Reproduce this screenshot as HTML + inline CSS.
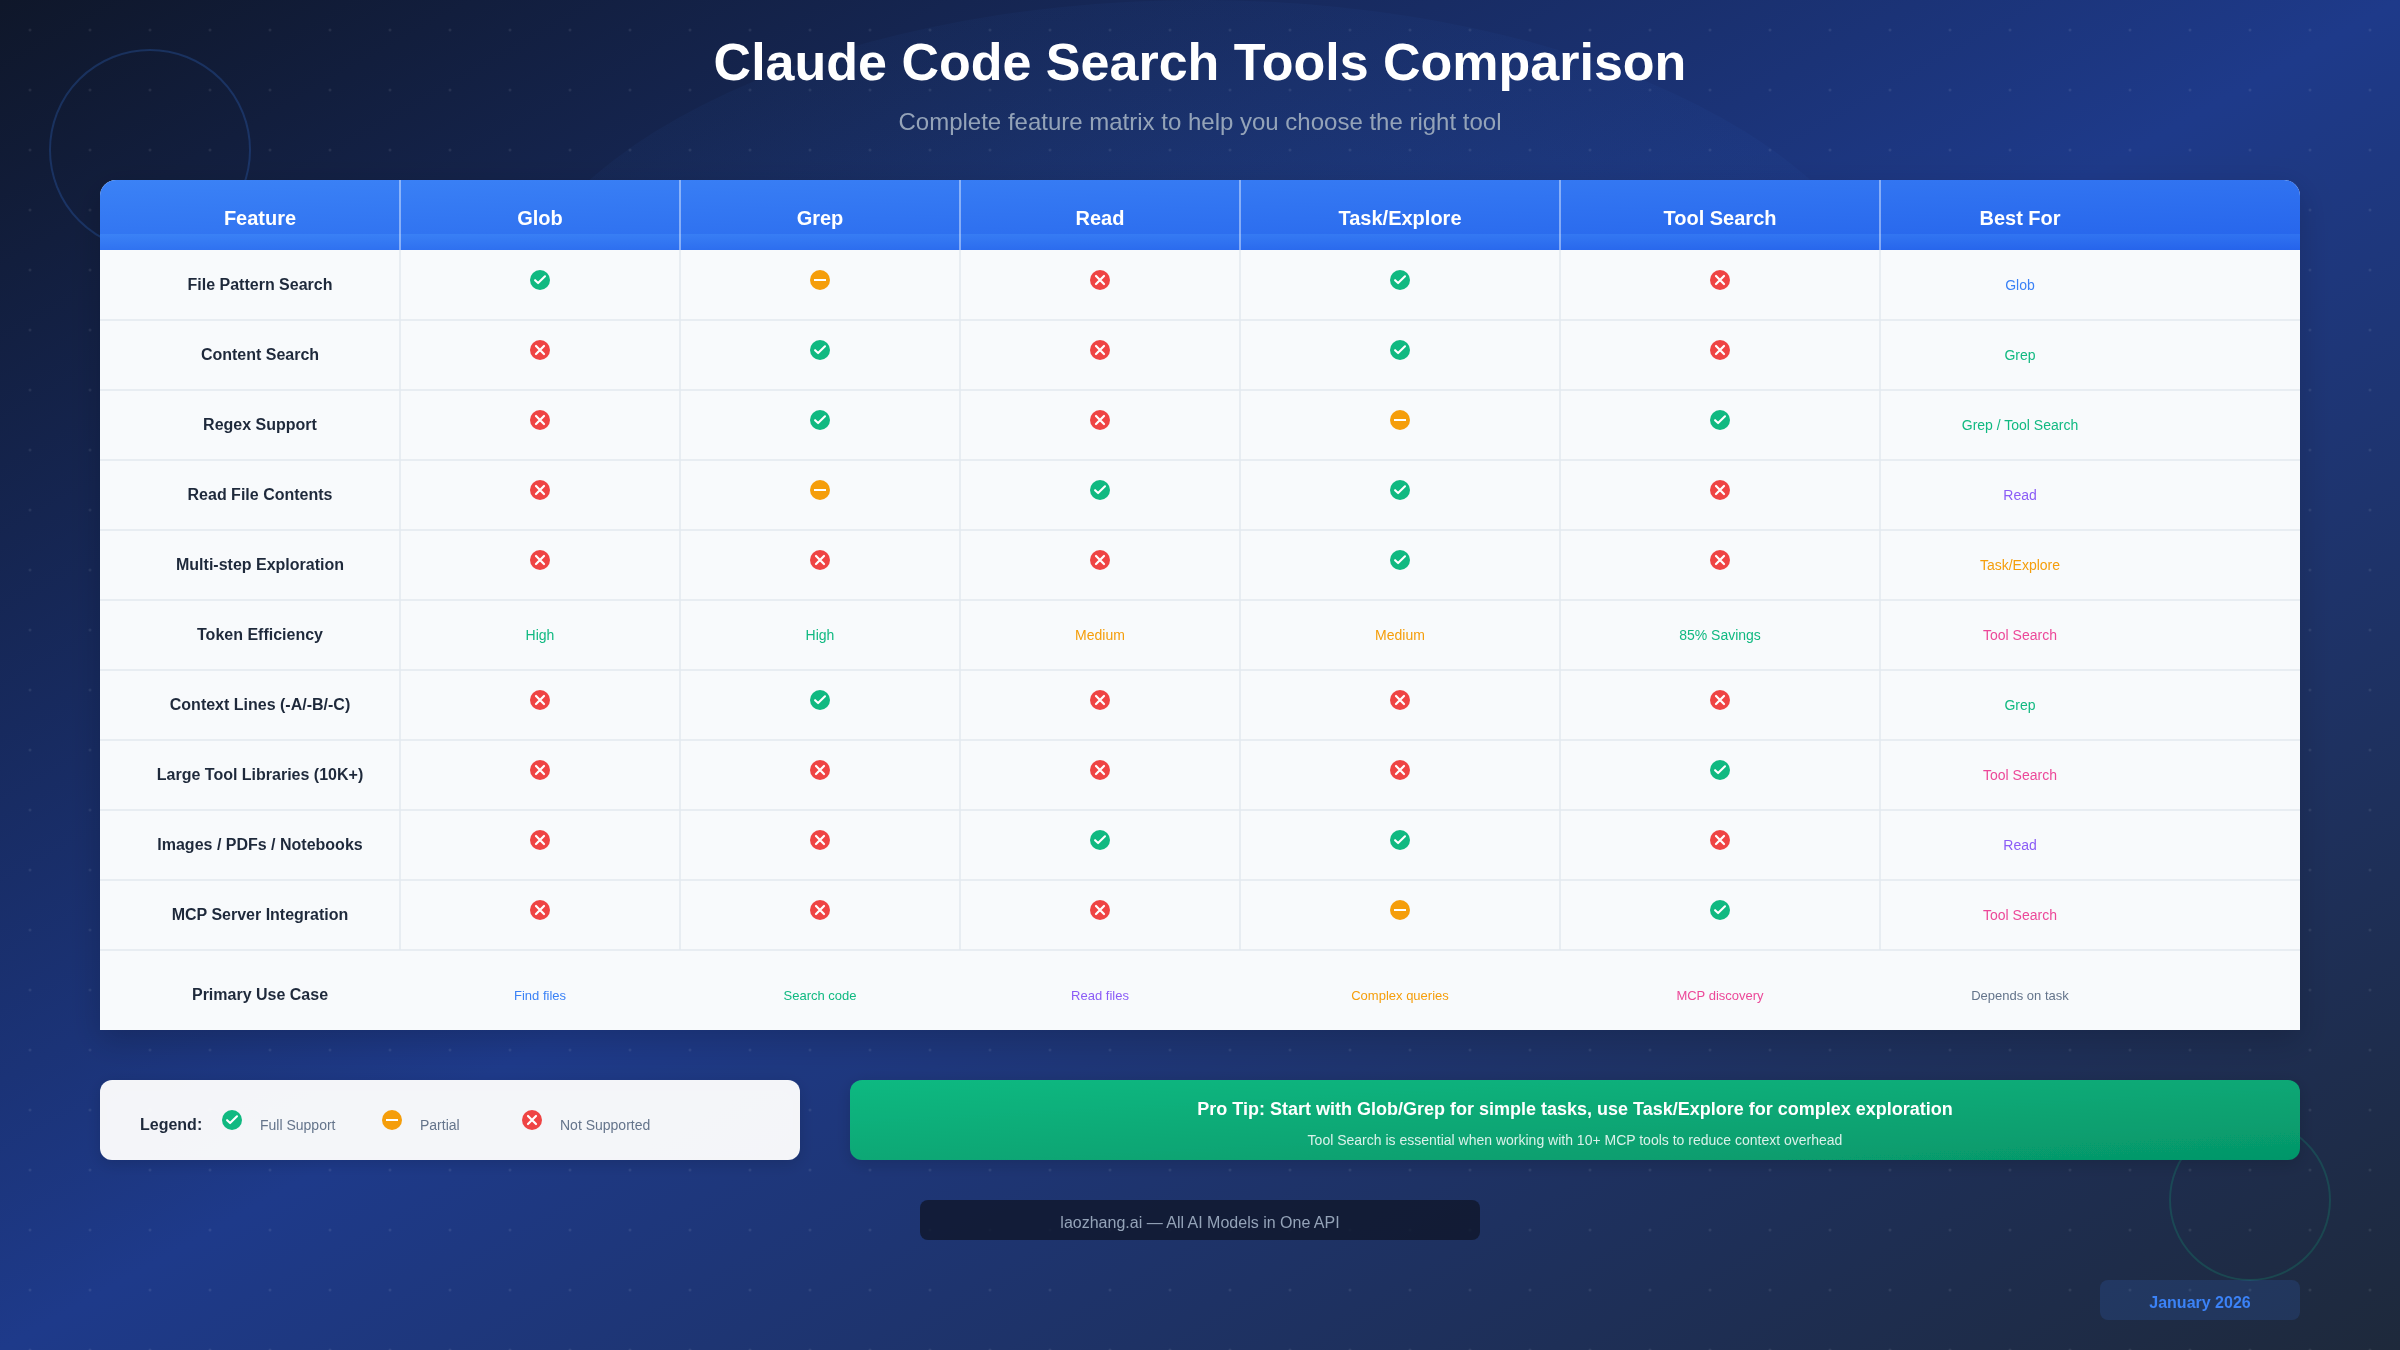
<!DOCTYPE html>
<html><head><meta charset="utf-8"><title>Claude Code Search Tools Comparison</title>
<style>
html,body{margin:0;padding:0;width:2400px;height:1350px;overflow:hidden;background:#0f172a;}
svg{display:block;will-change:transform;}
text{font-family:"Liberation Sans",sans-serif;}
.b{font-weight:bold;}
</style></head><body>
<svg width="2400" height="1350" viewBox="0 0 2400 1350">
<defs>
<linearGradient id="bg" x1="0" y1="0" x2="1" y2="1">
<stop offset="0" stop-color="#0f172a"/>
<stop offset="0.5" stop-color="#1e3a8a"/>
<stop offset="1" stop-color="#1e293b"/>
</linearGradient>
<radialGradient id="glow" cx="0.5" cy="0.5" r="0.5">
<stop offset="0" stop-color="#3b82f6" stop-opacity="0.12"/>
<stop offset="1" stop-color="#3b82f6" stop-opacity="0.04"/>
</radialGradient>
<linearGradient id="hdr" x1="0" y1="0" x2="1" y2="1">
<stop offset="0" stop-color="#3b82f6"/>
<stop offset="1" stop-color="#2563eb"/>
</linearGradient>
<linearGradient id="tip" x1="0" y1="0" x2="1" y2="1">
<stop offset="0" stop-color="#10b981"/>
<stop offset="1" stop-color="#059669"/>
</linearGradient>
<filter id="sh" x="-5%" y="-10%" width="110%" height="130%">
<feDropShadow dx="0" dy="10" stdDeviation="16" flood-color="#000000" flood-opacity="0.18"/>
</filter>
<filter id="sh2" x="-10%" y="-50%" width="120%" height="200%">
<feDropShadow dx="0" dy="4" stdDeviation="8" flood-color="#000000" flood-opacity="0.15"/>
</filter>
<pattern id="dots" x="0" y="0" width="60" height="60" patternUnits="userSpaceOnUse">
<circle cx="30" cy="30" r="1.5" fill="#ffffff" fill-opacity="0.08"/>
</pattern>
<g id="iy"><circle cx="0" cy="0" r="10" fill="#10b981"/><path d="M-4.9,0.2 L-1.9,3.1 L5,-3.7" fill="none" stroke="#fff" stroke-width="2.1" stroke-linecap="round" stroke-linejoin="round"/></g>
<g id="ip"><circle cx="0" cy="0" r="10" fill="#f59e0b"/><rect x="-6" y="-1" width="12" height="2" fill="#fff"/></g>
<g id="in"><circle cx="0" cy="0" r="10" fill="#ef4444"/><path d="M-4,-4 L4,4 M4,-4 L-4,4" fill="none" stroke="#fff" stroke-width="2.2" stroke-linecap="round"/></g>
</defs>
<rect x="0" y="0" width="2400" height="1350" fill="url(#bg)"/>
<ellipse cx="1200" cy="360" rx="705" ry="360" fill="url(#glow)"/>
<rect x="0" y="0" width="2400" height="1350" fill="url(#dots)"/>
<circle cx="150" cy="150" r="100" fill="none" stroke="#3b82f6" stroke-opacity="0.22" stroke-width="2"/>
<circle cx="2250" cy="1200" r="80" fill="none" stroke="#10b981" stroke-opacity="0.2" stroke-width="2"/>
<text x="1200" y="80" text-anchor="middle" class="b" font-size="52" fill="#ffffff">Claude Code Search Tools Comparison</text>
<text x="1200" y="130" text-anchor="middle" font-size="24" fill="#94a3b8">Complete feature matrix to help you choose the right tool</text>

<path d="M116,180 H2284 A16,16 0 0 1 2300,196 V1030 H100 V196 A16,16 0 0 1 116,180 Z" fill="#f8fafc" filter="url(#sh)"/>
<rect x="100" y="250" width="2200" height="780" fill="#f8fafc"/>
<rect x="100" y="180" width="2200" height="70" rx="16" ry="16" fill="url(#hdr)"/>
<rect x="100" y="234" width="2200" height="16" fill="url(#hdr)"/>
<line x1="400" y1="180" x2="400" y2="250" stroke="#ffffff" stroke-opacity="0.42" stroke-width="2"/>
<line x1="680" y1="180" x2="680" y2="250" stroke="#ffffff" stroke-opacity="0.42" stroke-width="2"/>
<line x1="960" y1="180" x2="960" y2="250" stroke="#ffffff" stroke-opacity="0.42" stroke-width="2"/>
<line x1="1240" y1="180" x2="1240" y2="250" stroke="#ffffff" stroke-opacity="0.42" stroke-width="2"/>
<line x1="1560" y1="180" x2="1560" y2="250" stroke="#ffffff" stroke-opacity="0.42" stroke-width="2"/>
<line x1="1880" y1="180" x2="1880" y2="250" stroke="#ffffff" stroke-opacity="0.42" stroke-width="2"/>
<text x="260" y="225" text-anchor="middle" class="b" font-size="20" fill="#ffffff">Feature</text>
<text x="540" y="225" text-anchor="middle" class="b" font-size="20" fill="#ffffff">Glob</text>
<text x="820" y="225" text-anchor="middle" class="b" font-size="20" fill="#ffffff">Grep</text>
<text x="1100" y="225" text-anchor="middle" class="b" font-size="20" fill="#ffffff">Read</text>
<text x="1400" y="225" text-anchor="middle" class="b" font-size="20" fill="#ffffff">Task/Explore</text>
<text x="1720" y="225" text-anchor="middle" class="b" font-size="20" fill="#ffffff">Tool Search</text>
<text x="2020" y="225" text-anchor="middle" class="b" font-size="20" fill="#ffffff">Best For</text>
<line x1="100" y1="320" x2="2300" y2="320" stroke="#e3e8ef" stroke-opacity="0.75" stroke-width="2"/>
<line x1="100" y1="390" x2="2300" y2="390" stroke="#e3e8ef" stroke-opacity="0.75" stroke-width="2"/>
<line x1="100" y1="460" x2="2300" y2="460" stroke="#e3e8ef" stroke-opacity="0.75" stroke-width="2"/>
<line x1="100" y1="530" x2="2300" y2="530" stroke="#e3e8ef" stroke-opacity="0.75" stroke-width="2"/>
<line x1="100" y1="600" x2="2300" y2="600" stroke="#e3e8ef" stroke-opacity="0.75" stroke-width="2"/>
<line x1="100" y1="670" x2="2300" y2="670" stroke="#e3e8ef" stroke-opacity="0.75" stroke-width="2"/>
<line x1="100" y1="740" x2="2300" y2="740" stroke="#e3e8ef" stroke-opacity="0.75" stroke-width="2"/>
<line x1="100" y1="810" x2="2300" y2="810" stroke="#e3e8ef" stroke-opacity="0.75" stroke-width="2"/>
<line x1="100" y1="880" x2="2300" y2="880" stroke="#e3e8ef" stroke-opacity="0.75" stroke-width="2"/>
<line x1="100" y1="950" x2="2300" y2="950" stroke="#e3e8ef" stroke-opacity="0.75" stroke-width="2"/>
<line x1="400" y1="250" x2="400" y2="950" stroke="#e3e8ef" stroke-opacity="0.75" stroke-width="2"/>
<line x1="680" y1="250" x2="680" y2="950" stroke="#e3e8ef" stroke-opacity="0.75" stroke-width="2"/>
<line x1="960" y1="250" x2="960" y2="950" stroke="#e3e8ef" stroke-opacity="0.75" stroke-width="2"/>
<line x1="1240" y1="250" x2="1240" y2="950" stroke="#e3e8ef" stroke-opacity="0.75" stroke-width="2"/>
<line x1="1560" y1="250" x2="1560" y2="950" stroke="#e3e8ef" stroke-opacity="0.75" stroke-width="2"/>
<line x1="1880" y1="250" x2="1880" y2="950" stroke="#e3e8ef" stroke-opacity="0.75" stroke-width="2"/>
<text x="260" y="290" text-anchor="middle" class="b" font-size="16" fill="#1e293b">File Pattern Search</text>
<use href="#iy" x="540" y="280"/>
<use href="#ip" x="820" y="280"/>
<use href="#in" x="1100" y="280"/>
<use href="#iy" x="1400" y="280"/>
<use href="#in" x="1720" y="280"/>
<text x="2020" y="290" text-anchor="middle" font-size="14" fill="#3b82f6">Glob</text>
<text x="260" y="360" text-anchor="middle" class="b" font-size="16" fill="#1e293b">Content Search</text>
<use href="#in" x="540" y="350"/>
<use href="#iy" x="820" y="350"/>
<use href="#in" x="1100" y="350"/>
<use href="#iy" x="1400" y="350"/>
<use href="#in" x="1720" y="350"/>
<text x="2020" y="360" text-anchor="middle" font-size="14" fill="#10b981">Grep</text>
<text x="260" y="430" text-anchor="middle" class="b" font-size="16" fill="#1e293b">Regex Support</text>
<use href="#in" x="540" y="420"/>
<use href="#iy" x="820" y="420"/>
<use href="#in" x="1100" y="420"/>
<use href="#ip" x="1400" y="420"/>
<use href="#iy" x="1720" y="420"/>
<text x="2020" y="430" text-anchor="middle" font-size="14" fill="#10b981">Grep / Tool Search</text>
<text x="260" y="500" text-anchor="middle" class="b" font-size="16" fill="#1e293b">Read File Contents</text>
<use href="#in" x="540" y="490"/>
<use href="#ip" x="820" y="490"/>
<use href="#iy" x="1100" y="490"/>
<use href="#iy" x="1400" y="490"/>
<use href="#in" x="1720" y="490"/>
<text x="2020" y="500" text-anchor="middle" font-size="14" fill="#8b5cf6">Read</text>
<text x="260" y="570" text-anchor="middle" class="b" font-size="16" fill="#1e293b">Multi-step Exploration</text>
<use href="#in" x="540" y="560"/>
<use href="#in" x="820" y="560"/>
<use href="#in" x="1100" y="560"/>
<use href="#iy" x="1400" y="560"/>
<use href="#in" x="1720" y="560"/>
<text x="2020" y="570" text-anchor="middle" font-size="14" fill="#f59e0b">Task/Explore</text>
<text x="260" y="640" text-anchor="middle" class="b" font-size="16" fill="#1e293b">Token Efficiency</text>
<text x="540" y="640" text-anchor="middle" font-size="14" fill="#10b981">High</text>
<text x="820" y="640" text-anchor="middle" font-size="14" fill="#10b981">High</text>
<text x="1100" y="640" text-anchor="middle" font-size="14" fill="#f59e0b">Medium</text>
<text x="1400" y="640" text-anchor="middle" font-size="14" fill="#f59e0b">Medium</text>
<text x="1720" y="640" text-anchor="middle" font-size="14" fill="#10b981">85% Savings</text>
<text x="2020" y="640" text-anchor="middle" font-size="14" fill="#ec4899">Tool Search</text>
<text x="260" y="710" text-anchor="middle" class="b" font-size="16" fill="#1e293b">Context Lines (-A/-B/-C)</text>
<use href="#in" x="540" y="700"/>
<use href="#iy" x="820" y="700"/>
<use href="#in" x="1100" y="700"/>
<use href="#in" x="1400" y="700"/>
<use href="#in" x="1720" y="700"/>
<text x="2020" y="710" text-anchor="middle" font-size="14" fill="#10b981">Grep</text>
<text x="260" y="780" text-anchor="middle" class="b" font-size="16" fill="#1e293b">Large Tool Libraries (10K+)</text>
<use href="#in" x="540" y="770"/>
<use href="#in" x="820" y="770"/>
<use href="#in" x="1100" y="770"/>
<use href="#in" x="1400" y="770"/>
<use href="#iy" x="1720" y="770"/>
<text x="2020" y="780" text-anchor="middle" font-size="14" fill="#ec4899">Tool Search</text>
<text x="260" y="850" text-anchor="middle" class="b" font-size="16" fill="#1e293b">Images / PDFs / Notebooks</text>
<use href="#in" x="540" y="840"/>
<use href="#in" x="820" y="840"/>
<use href="#iy" x="1100" y="840"/>
<use href="#iy" x="1400" y="840"/>
<use href="#in" x="1720" y="840"/>
<text x="2020" y="850" text-anchor="middle" font-size="14" fill="#8b5cf6">Read</text>
<text x="260" y="920" text-anchor="middle" class="b" font-size="16" fill="#1e293b">MCP Server Integration</text>
<use href="#in" x="540" y="910"/>
<use href="#in" x="820" y="910"/>
<use href="#in" x="1100" y="910"/>
<use href="#ip" x="1400" y="910"/>
<use href="#iy" x="1720" y="910"/>
<text x="2020" y="920" text-anchor="middle" font-size="14" fill="#ec4899">Tool Search</text>
<text x="260" y="1000" text-anchor="middle" class="b" font-size="16" fill="#1e293b">Primary Use Case</text>
<text x="540" y="1000" text-anchor="middle" font-size="13" fill="#3b82f6">Find files</text>
<text x="820" y="1000" text-anchor="middle" font-size="13" fill="#10b981">Search code</text>
<text x="1100" y="1000" text-anchor="middle" font-size="13" fill="#8b5cf6">Read files</text>
<text x="1400" y="1000" text-anchor="middle" font-size="13" fill="#f59e0b">Complex queries</text>
<text x="1720" y="1000" text-anchor="middle" font-size="13" fill="#ec4899">MCP discovery</text>
<text x="2020" y="1000" text-anchor="middle" font-size="13" fill="#64748b">Depends on task</text>
<rect x="100" y="1080" width="700" height="80" rx="12" ry="12" fill="#ffffff" fill-opacity="0.95" filter="url(#sh2)"/>
<text x="140" y="1130" class="b" font-size="16" fill="#1e293b">Legend:</text>
<use href="#iy" x="232" y="1120"/>
<use href="#ip" x="392" y="1120"/>
<use href="#in" x="532" y="1120"/>
<text x="260" y="1130" font-size="14" fill="#64748b">Full Support</text>
<text x="420" y="1130" font-size="14" fill="#64748b">Partial</text>
<text x="560" y="1130" font-size="14" fill="#64748b">Not Supported</text>
<rect x="850" y="1080" width="1450" height="80" rx="12" ry="12" fill="url(#tip)" filter="url(#sh2)"/>
<text x="1575" y="1115" text-anchor="middle" class="b" font-size="18" fill="#ffffff">Pro Tip: Start with Glob/Grep for simple tasks, use Task/Explore for complex exploration</text>
<text x="1575" y="1145" text-anchor="middle" font-size="14" fill="#ffffff" fill-opacity="0.85">Tool Search is essential when working with 10+ MCP tools to reduce context overhead</text>
<rect x="920" y="1200" width="560" height="40" rx="8" ry="8" fill="#0f172a" fill-opacity="0.8"/>
<text x="1200" y="1228" text-anchor="middle" font-size="16" fill="#94a3b8">laozhang.ai — All AI Models in One API</text>
<rect x="2100" y="1280" width="200" height="40" rx="8" ry="8" fill="#3b82f6" fill-opacity="0.15"/>
<text x="2200" y="1308" text-anchor="middle" class="b" font-size="16" fill="#3b82f6">January 2026</text>
</svg></body></html>
